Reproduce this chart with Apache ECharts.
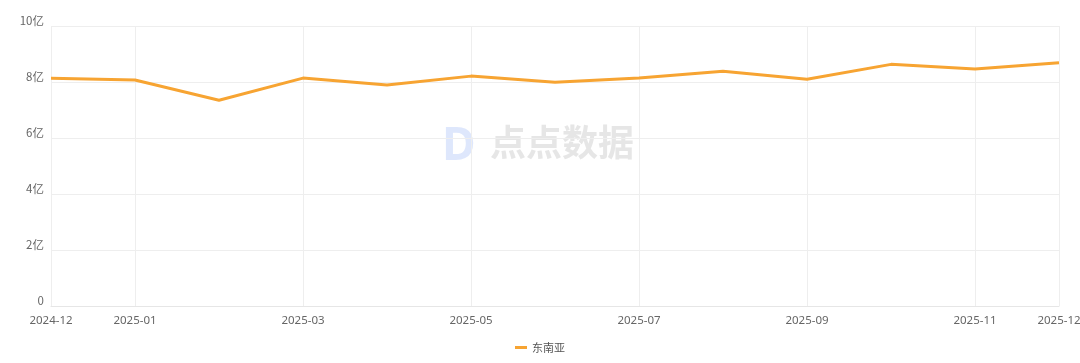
<!DOCTYPE html>
<html>
<head>
<meta charset="utf-8">
<script src="https://cdn.jsdelivr.net/npm/echarts@6/dist/echarts.min.js"></script>
<style>html,body{margin:0;padding:0;background:#fff}#c{width:1080px;height:363px}</style>
</head>
<body>
<div id="c"></div>
<script>
const categories = ['2024-12','2025-01','2025-02','2025-03','2025-04','2025-05','2025-06','2025-07','2025-08','2025-09','2025-10','2025-11','2025-12'];
const seriesName = '东南亚';
const values = [8.13, 8.07, 7.35, 8.14, 7.89, 8.21, 7.99, 8.14, 8.38, 8.10, 8.63, 8.46, 8.69];
const yTicks = [0, 2, 4, 6, 8, 10];

const shownIdx = i => i === 0 || i === categories.length - 1 || i % 2 === 1;
const chart = echarts.init(document.getElementById('c'));
chart.setOption({
  animation: false,
  grid: {left: 51, right: 21, top: 26, bottom: 57, containLabel: false, outerBoundsMode: 'none'},
  graphic: [
    {type: 'text', left: 442, top: 124, z: 0, style: {text: 'D', font: 'bold 46px "Noto Sans"', fill: 'rgba(160,185,245,0.35)'}},
    {type: 'text', left: 490, top: 124, z: 0, style: {text: '点点数据', font: 'bold 36px "Noto Sans CJK SC"', fill: 'rgba(200,200,200,0.45)'}}
  ],
  legend: {
    bottom: 5, left: 'center',
    itemWidth: 12, itemHeight: 3, itemGap: 8,
    icon: 'rect',
    textStyle: {color: '#555', fontSize: 11, fontFamily: '"Noto Sans CJK SC"'},
    data: [seriesName]
  },
  xAxis: {
    type: 'category', data: categories, boundaryGap: false,
    axisLine: {lineStyle: {color: '#e6e6e6'}},
    axisTick: {show: false},
    axisLabel: {color: '#666', fontSize: 11.5, margin: 9, interval: (i) => shownIdx(i), fontFamily: '"Noto Sans"'},
    splitLine: {show: true, interval: (i) => shownIdx(i), lineStyle: {color: '#eeeeee'}}
  },
  yAxis: {
    type: 'value', min: yTicks[0], max: yTicks[yTicks.length - 1], interval: 2,
    axisLine: {show: false}, axisTick: {show: false},
    axisLabel: {color: '#666', fontSize: 11.5, margin: 7, verticalAlign: 'bottom', fontFamily: '"Noto Sans CJK SC"',
      formatter: v => v === 0 ? '0' : v + '亿'},
    splitLine: {lineStyle: {color: '#eeeeee'}}
  },
  series: [{
    name: seriesName, type: 'line', data: values,
    symbol: 'none', smooth: false,
    lineStyle: {color: '#F7A432', width: 3},
    itemStyle: {color: '#F7A432'}
  }]
});
</script>
</body>
</html>
